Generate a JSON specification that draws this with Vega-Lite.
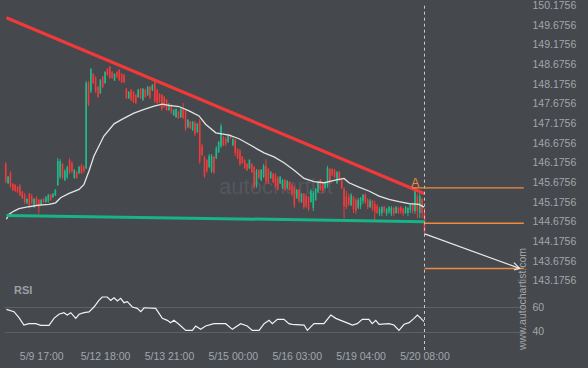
{
"$schema": "https://vega.github.io/schema/vega-lite/v6.json",
"background": "#45484d",
"padding": {"left": 0, "top": 0, "right": 16, "bottom": 8},
"spacing": 0,
"bounds": "flush",
"datasets": {
"candles": [
{"i":0,"o":146.15,"c":145.71,"h":146.20,"l":145.66},
{"i":1,"o":145.66,"c":145.82,"h":145.84,"l":145.64},
{"i":2,"o":145.92,"c":145.59,"h":145.97,"l":145.54},
{"i":3,"o":145.64,"c":145.49,"h":145.66,"l":145.46},
{"i":4,"o":145.61,"c":145.46,"h":145.64,"l":145.44},
{"i":5,"o":145.56,"c":145.44,"h":145.59,"l":145.41},
{"i":6,"o":145.59,"c":145.36,"h":145.64,"l":145.33},
{"i":7,"o":145.44,"c":145.28,"h":145.46,"l":145.26},
{"i":8,"o":145.36,"c":145.18,"h":145.41,"l":145.13},
{"i":9,"o":145.16,"c":145.26,"h":145.28,"l":145.13},
{"i":10,"o":145.39,"c":145.10,"h":145.41,"l":145.08},
{"i":11,"o":145.33,"c":145.16,"h":145.39,"l":145.13},
{"i":12,"o":145.08,"c":145.26,"h":145.28,"l":145.03},
{"i":13,"o":145.28,"c":145.10,"h":145.33,"l":145.08},
{"i":14,"o":145.23,"c":145.05,"h":145.26,"l":144.88},
{"i":15,"o":145.10,"c":145.23,"h":145.26,"l":145.08},
{"i":16,"o":145.26,"c":145.18,"h":145.28,"l":145.16},
{"i":17,"o":145.18,"c":145.31,"h":145.33,"l":145.16},
{"i":18,"o":145.21,"c":145.36,"h":145.39,"l":145.16},
{"i":19,"o":145.36,"c":145.23,"h":145.39,"l":145.21},
{"i":20,"o":145.31,"c":145.39,"h":145.41,"l":145.28},
{"i":21,"o":145.36,"c":145.49,"h":145.51,"l":145.33},
{"i":22,"o":145.61,"c":146.22,"h":146.30,"l":145.59},
{"i":23,"o":145.82,"c":146.22,"h":146.27,"l":145.77},
{"i":24,"o":146.15,"c":145.82,"h":146.17,"l":145.77},
{"i":25,"o":145.74,"c":145.97,"h":146.02,"l":145.71},
{"i":26,"o":145.82,"c":146.07,"h":146.10,"l":145.77},
{"i":27,"o":146.25,"c":145.94,"h":146.30,"l":145.89},
{"i":28,"o":146.17,"c":145.97,"h":146.22,"l":145.92},
{"i":29,"o":145.79,"c":145.99,"h":146.02,"l":145.77},
{"i":30,"o":145.94,"c":145.79,"h":145.97,"l":145.77},
{"i":31,"o":145.92,"c":146.07,"h":146.10,"l":145.89},
{"i":32,"o":146.10,"c":145.92,"h":146.15,"l":145.89},
{"i":33,"o":146.07,"c":145.97,"h":146.12,"l":145.92},
{"i":34,"o":146.04,"c":148.21,"h":148.26,"l":146.02},
{"i":35,"o":148.21,"c":147.67,"h":148.26,"l":147.62},
{"i":36,"o":148.00,"c":148.56,"h":148.59,"l":147.95},
{"i":37,"o":148.44,"c":148.21,"h":148.46,"l":148.18},
{"i":38,"o":148.34,"c":148.00,"h":148.39,"l":147.95},
{"i":39,"o":148.11,"c":147.85,"h":148.13,"l":147.83},
{"i":40,"o":147.95,"c":148.28,"h":148.31,"l":147.93},
{"i":41,"o":148.36,"c":148.11,"h":148.39,"l":148.08},
{"i":42,"o":148.21,"c":148.49,"h":148.51,"l":148.18},
{"i":43,"o":148.56,"c":148.41,"h":148.59,"l":148.39},
{"i":44,"o":148.62,"c":148.34,"h":148.64,"l":148.31},
{"i":45,"o":148.49,"c":148.34,"h":148.51,"l":148.31},
{"i":46,"o":148.28,"c":148.44,"h":148.46,"l":148.26},
{"i":47,"o":148.49,"c":148.36,"h":148.51,"l":148.34},
{"i":48,"o":148.54,"c":148.28,"h":148.56,"l":148.26},
{"i":49,"o":148.44,"c":148.23,"h":148.46,"l":148.21},
{"i":50,"o":148.41,"c":148.23,"h":148.44,"l":148.21},
{"i":51,"o":148.06,"c":147.83,"h":148.08,"l":147.80},
{"i":52,"o":147.83,"c":147.98,"h":148.00,"l":147.80},
{"i":53,"o":148.03,"c":147.78,"h":148.06,"l":147.75},
{"i":54,"o":147.98,"c":147.73,"h":148.00,"l":147.70},
{"i":55,"o":147.90,"c":147.70,"h":147.93,"l":147.67},
{"i":56,"o":147.85,"c":148.03,"h":148.06,"l":147.83},
{"i":57,"o":148.06,"c":147.83,"h":148.08,"l":147.80},
{"i":58,"o":147.78,"c":148.06,"h":148.08,"l":147.75},
{"i":59,"o":148.03,"c":147.85,"h":148.06,"l":147.83},
{"i":60,"o":147.90,"c":148.11,"h":148.13,"l":147.88},
{"i":61,"o":148.11,"c":147.83,"h":148.13,"l":147.80},
{"i":62,"o":148.03,"c":148.16,"h":148.18,"l":148.00},
{"i":63,"o":148.23,"c":147.75,"h":148.26,"l":147.70},
{"i":64,"o":148.03,"c":147.70,"h":148.06,"l":147.67},
{"i":65,"o":147.93,"c":147.73,"h":147.95,"l":147.70},
{"i":66,"o":147.90,"c":147.55,"h":147.93,"l":147.50},
{"i":67,"o":147.85,"c":147.60,"h":147.88,"l":147.57},
{"i":68,"o":147.78,"c":147.52,"h":147.80,"l":147.50},
{"i":69,"o":147.52,"c":147.67,"h":147.70,"l":147.50},
{"i":70,"o":147.65,"c":147.45,"h":147.67,"l":147.42},
{"i":71,"o":147.39,"c":147.52,"h":147.55,"l":147.37},
{"i":72,"o":147.34,"c":147.55,"h":147.57,"l":147.32},
{"i":73,"o":147.47,"c":147.32,"h":147.50,"l":147.29},
{"i":74,"o":147.34,"c":147.55,"h":147.57,"l":147.32},
{"i":75,"o":147.55,"c":147.32,"h":147.70,"l":147.29},
{"i":76,"o":147.50,"c":147.04,"h":147.55,"l":146.99},
{"i":77,"o":147.09,"c":147.27,"h":147.29,"l":147.06},
{"i":78,"o":147.22,"c":147.06,"h":147.24,"l":147.04},
{"i":79,"o":147.01,"c":147.22,"h":147.24,"l":146.99},
{"i":80,"o":147.19,"c":146.91,"h":147.24,"l":146.86},
{"i":81,"o":146.96,"c":147.17,"h":147.19,"l":146.94},
{"i":82,"o":147.24,"c":146.22,"h":147.29,"l":146.15},
{"i":83,"o":146.60,"c":146.38,"h":146.66,"l":146.35},
{"i":84,"o":146.33,"c":145.84,"h":146.35,"l":145.79},
{"i":85,"o":146.25,"c":145.97,"h":146.27,"l":145.92},
{"i":86,"o":146.07,"c":146.35,"h":146.40,"l":146.04},
{"i":87,"o":145.97,"c":146.35,"h":146.40,"l":145.92},
{"i":88,"o":146.33,"c":145.94,"h":146.35,"l":145.89},
{"i":89,"o":146.30,"c":146.55,"h":146.60,"l":146.27},
{"i":90,"o":146.45,"c":146.71,"h":146.73,"l":146.43},
{"i":91,"o":146.60,"c":147.11,"h":147.17,"l":146.55},
{"i":92,"o":146.83,"c":146.63,"h":146.86,"l":146.60},
{"i":93,"o":146.78,"c":146.66,"h":146.83,"l":146.60},
{"i":94,"o":146.71,"c":146.89,"h":146.91,"l":146.68},
{"i":95,"o":146.89,"c":146.81,"h":146.91,"l":146.78},
{"i":96,"o":146.63,"c":146.78,"h":146.81,"l":146.60},
{"i":97,"o":146.76,"c":146.43,"h":146.78,"l":146.35},
{"i":98,"o":146.53,"c":146.30,"h":146.55,"l":146.27},
{"i":99,"o":146.48,"c":146.15,"h":146.53,"l":146.10},
{"i":100,"o":146.33,"c":146.17,"h":146.35,"l":146.15},
{"i":101,"o":146.25,"c":146.04,"h":146.27,"l":146.02},
{"i":102,"o":146.15,"c":145.99,"h":146.17,"l":145.97},
{"i":103,"o":146.04,"c":146.25,"h":146.27,"l":146.02},
{"i":104,"o":146.15,"c":145.94,"h":146.17,"l":145.92},
{"i":105,"o":146.07,"c":145.56,"h":146.10,"l":145.51},
{"i":106,"o":145.59,"c":145.97,"h":146.02,"l":145.54},
{"i":107,"o":145.99,"c":145.79,"h":146.02,"l":145.77},
{"i":108,"o":145.74,"c":145.99,"h":146.02,"l":145.71},
{"i":109,"o":145.82,"c":146.10,"h":146.15,"l":145.79},
{"i":110,"o":146.10,"c":145.71,"h":146.27,"l":145.64},
{"i":111,"o":146.02,"c":145.69,"h":146.04,"l":145.64},
{"i":112,"o":145.79,"c":145.94,"h":145.97,"l":145.77},
{"i":113,"o":145.89,"c":145.69,"h":145.92,"l":145.66},
{"i":114,"o":145.87,"c":145.59,"h":145.92,"l":145.54},
{"i":115,"o":145.79,"c":145.51,"h":145.84,"l":145.46},
{"i":116,"o":145.66,"c":145.82,"h":145.84,"l":145.64},
{"i":117,"o":145.54,"c":145.74,"h":145.77,"l":145.51},
{"i":118,"o":145.74,"c":145.49,"h":145.77,"l":145.46},
{"i":119,"o":145.54,"c":145.71,"h":145.74,"l":145.51},
{"i":120,"o":145.69,"c":145.49,"h":145.71,"l":145.46},
{"i":121,"o":145.61,"c":145.39,"h":145.64,"l":145.33},
{"i":122,"o":145.54,"c":145.10,"h":145.59,"l":145.03},
{"i":123,"o":145.28,"c":145.49,"h":145.51,"l":145.26},
{"i":124,"o":145.49,"c":145.21,"h":145.51,"l":145.16},
{"i":125,"o":145.18,"c":145.39,"h":145.41,"l":145.16},
{"i":126,"o":145.39,"c":145.05,"h":145.41,"l":145.00},
{"i":127,"o":145.33,"c":145.08,"h":145.39,"l":145.03},
{"i":128,"o":145.31,"c":145.00,"h":145.33,"l":144.95},
{"i":129,"o":145.18,"c":145.46,"h":145.51,"l":145.16},
{"i":130,"o":145.03,"c":145.41,"h":145.46,"l":144.95},
{"i":131,"o":145.23,"c":145.51,"h":145.54,"l":145.21},
{"i":132,"o":145.44,"c":145.69,"h":145.71,"l":145.41},
{"i":133,"o":145.74,"c":145.49,"h":145.77,"l":145.46},
{"i":134,"o":145.64,"c":145.46,"h":145.66,"l":145.41},
{"i":135,"o":145.54,"c":145.69,"h":145.71,"l":145.51},
{"i":136,"o":145.59,"c":146.04,"h":146.10,"l":145.54},
{"i":137,"o":146.02,"c":145.69,"h":146.04,"l":145.64},
{"i":138,"o":146.02,"c":145.87,"h":146.04,"l":145.84},
{"i":139,"o":145.99,"c":145.82,"h":146.02,"l":145.79},
{"i":140,"o":145.66,"c":145.94,"h":145.97,"l":145.64},
{"i":141,"o":145.94,"c":145.74,"h":145.97,"l":145.71},
{"i":142,"o":145.77,"c":145.54,"h":145.79,"l":145.51},
{"i":143,"o":145.51,"c":145.08,"h":145.56,"l":144.77},
{"i":144,"o":145.33,"c":145.05,"h":145.46,"l":145.00},
{"i":145,"o":145.31,"c":145.13,"h":145.39,"l":145.08},
{"i":146,"o":145.10,"c":145.36,"h":145.41,"l":145.08},
{"i":147,"o":145.31,"c":145.00,"h":145.33,"l":144.90},
{"i":148,"o":145.23,"c":144.95,"h":145.28,"l":144.88},
{"i":149,"o":145.03,"c":145.23,"h":145.28,"l":145.00},
{"i":150,"o":145.08,"c":145.28,"h":145.31,"l":145.00},
{"i":151,"o":145.21,"c":145.36,"h":145.39,"l":145.13},
{"i":152,"o":145.36,"c":145.18,"h":145.41,"l":145.13},
{"i":153,"o":145.23,"c":145.05,"h":145.28,"l":145.00},
{"i":154,"o":145.05,"c":145.21,"h":145.26,"l":145.03},
{"i":155,"o":145.21,"c":145.00,"h":145.23,"l":144.95},
{"i":156,"o":145.13,"c":144.93,"h":145.21,"l":144.70},
{"i":157,"o":145.08,"c":144.90,"h":145.13,"l":144.88},
{"i":158,"o":144.88,"c":145.00,"h":145.05,"l":144.82},
{"i":159,"o":144.90,"c":145.05,"h":145.08,"l":144.82},
{"i":160,"o":145.05,"c":144.93,"h":145.08,"l":144.90},
{"i":161,"o":144.88,"c":145.00,"h":145.03,"l":144.82},
{"i":162,"o":144.93,"c":145.05,"h":145.08,"l":144.88},
{"i":163,"o":144.88,"c":145.03,"h":145.08,"l":144.82},
{"i":164,"o":145.03,"c":144.88,"h":145.05,"l":144.82},
{"i":165,"o":144.90,"c":145.05,"h":145.08,"l":144.88},
{"i":166,"o":145.03,"c":144.90,"h":145.05,"l":144.88},
{"i":167,"o":145.05,"c":144.93,"h":145.08,"l":144.88},
{"i":168,"o":145.00,"c":144.88,"h":145.03,"l":144.82},
{"i":169,"o":144.90,"c":145.05,"h":145.08,"l":144.88},
{"i":170,"o":144.90,"c":145.03,"h":145.05,"l":144.82},
{"i":171,"o":144.98,"c":145.13,"h":145.16,"l":144.90},
{"i":172,"o":145.13,"c":144.95,"h":145.16,"l":144.88},
{"i":173,"o":144.95,"c":145.46,"h":145.54,"l":144.88},
{"i":174,"o":145.33,"c":144.95,"h":145.39,"l":144.77},
{"i":175,"o":144.90,"c":145.33,"h":145.46,"l":144.77},
{"i":176,"o":145.26,"c":144.90,"h":145.28,"l":144.77},
{"i":177,"o":144.90,"c":144.42,"h":145.03,"l":144.37}
],
"ma": [
{"i":0.3,"p":144.74},{"i":1.4,"p":144.87},{"i":3.5,"p":144.95},{"i":5.6,"p":145.01},{"i":9.8,"p":145.06},
{"i":14.1,"p":145.10},{"i":18.3,"p":145.12},{"i":21.1,"p":145.16},{"i":23.2,"p":145.29},{"i":26.8,"p":145.40},
{"i":31,"p":145.50},{"i":33.1,"p":145.63},{"i":35.2,"p":145.97},{"i":37.3,"p":146.35},{"i":41.5,"p":146.86},
{"i":45.8,"p":147.17},{"i":49.3,"p":147.29},{"i":54.2,"p":147.44},{"i":58.5,"p":147.54},{"i":62.7,"p":147.62},
{"i":66.2,"p":147.67},{"i":69,"p":147.64},{"i":73.2,"p":147.61},{"i":77.5,"p":147.50},{"i":81.7,"p":147.37},
{"i":84.5,"p":147.16},{"i":88.8,"p":146.94},{"i":94.4,"p":146.88},{"i":98.6,"p":146.79},{"i":102.8,"p":146.65},
{"i":107.1,"p":146.50},{"i":109.2,"p":146.43},{"i":113.4,"p":146.33},{"i":117.6,"p":146.18},{"i":121.9,"p":145.99},
{"i":126.1,"p":145.78},{"i":130.3,"p":145.70},{"i":134.5,"p":145.67},{"i":138.8,"p":145.73},{"i":143,"p":145.78},
{"i":145.1,"p":145.67},{"i":149.3,"p":145.56},{"i":153.5,"p":145.46},{"i":157.8,"p":145.33},{"i":162,"p":145.25},
{"i":166.2,"p":145.19},{"i":170.5,"p":145.14},{"i":174.7,"p":145.12},{"i":176.8,"p":145.05}
],
"rsi": [
{"i":0.3,"r":58.1},{"i":3.5,"r":56.2},{"i":5.6,"r":51.4},{"i":7.7,"r":45.4},{"i":9.8,"r":46.5},
{"i":12.7,"r":46.5},{"i":14.8,"r":45.2},{"i":18.3,"r":45.2},{"i":20.4,"r":50.8},{"i":22.5,"r":54.1},
{"i":24.6,"r":55.4},{"i":26,"r":53.5},{"i":27.5,"r":55.4},{"i":29.6,"r":50.8},{"i":31,"r":54.1},
{"i":33.1,"r":55.4},{"i":35.2,"r":56},{"i":37.3,"r":60},{"i":39.4,"r":65.4},{"i":40.8,"r":68.1},
{"i":42.9,"r":68.1},{"i":44.4,"r":65.4},{"i":45.8,"r":67.5},{"i":47.2,"r":64.9},{"i":48.6,"r":67},
{"i":50,"r":63.5},{"i":51.4,"r":64.3},{"i":53.5,"r":60},{"i":55.6,"r":58.9},{"i":57.1,"r":56.2},
{"i":58.5,"r":59.4},{"i":63.4,"r":58.9},{"i":66.2,"r":50.8},{"i":68.3,"r":49.2},{"i":69.7,"r":47.3},
{"i":71.1,"r":49.2},{"i":73.2,"r":46},{"i":76.1,"r":41.1},{"i":78.9,"r":41.1},{"i":80.3,"r":44.6},
{"i":82.4,"r":41.9},{"i":84.5,"r":44.6},{"i":88,"r":46.5},{"i":93,"r":46.5},{"i":95.8,"r":41.9},
{"i":99.3,"r":46.5},{"i":102.1,"r":44.6},{"i":104.2,"r":41.1},{"i":107.1,"r":41.1},{"i":109.2,"r":46.5},
{"i":111.3,"r":49.2},{"i":112.7,"r":46.5},{"i":114.8,"r":50},{"i":117.6,"r":50},{"i":119.7,"r":46.5},
{"i":121.1,"r":46},{"i":126.1,"r":45.4},{"i":127.5,"r":41.1},{"i":130.3,"r":46.5},{"i":134.5,"r":46.5},
{"i":137.4,"r":53.5},{"i":139.5,"r":50.8},{"i":141.6,"r":49.2},{"i":145.1,"r":46.5},{"i":146.5,"r":45.4},
{"i":148.6,"r":46.5},{"i":150.7,"r":50},{"i":153.5,"r":50},{"i":154.9,"r":46.5},{"i":156.4,"r":49.2},
{"i":157.8,"r":46},{"i":162,"r":46.5},{"i":164.1,"r":45.4},{"i":166.2,"r":41.1},{"i":168.4,"r":46},
{"i":170.5,"r":47.3},{"i":172.6,"r":50.8},{"i":174,"r":53.5},{"i":175.5,"r":50.8},{"i":176.8,"r":48.1}
],
"res": [{"i":0.3,"p":149.87},{"i":177.1,"p":145.39}],
"sup": [{"i":0.3,"p":144.84},{"i":177.1,"p":144.68}],
"levels": [{"i":171.8,"i2":219,"p":145.54},{"i":177.1,"i2":219,"p":144.64},{"i":177.1,"i2":219,"p":143.49}],
"arrow": [{"k":0,"i":177.1,"p":144.37},{"k":1,"i":217.2,"p":143.49}],
"head": [{"k":0,"i":214.8,"p":143.64},{"k":1,"i":217.2,"p":143.49},{"k":2,"i":214.8,"p":143.45}],
"vline": [{"i":177,"p":150.1756,"p2":142.865}],
"alabel": [{"i":173.1,"p":145.66,"t":"A"}],
"wm": [{"i":90.2,"p":145.56,"t":"autochartist"}],
"rsilabel": [{"i":3.5,"r":72.6,"t":"RSI"}],
"site": [{"i":218.6,"r":66.5,"t":"www.autochartist.com"}],
"vline2": [{"i":177}]
},
"vconcat": [
{
"width": 520,
"height": 292,
"encoding": {"x": {"field": "i", "type": "quantitative", "scale": {"domain": [-0.72, 219.06], "nice": false, "zero": false}, "axis": null}},
"layer": [
{"data": {"name": "wm"}, "mark": {"type": "text", "align": "left", "baseline": "middle", "font": "Liberation Sans", "fontSize": 22, "color": "#54575c"},
 "encoding": {"y": {"field": "p", "type": "quantitative", "scale": {"domain": [142.865, 150.295], "nice": false, "zero": false},
   "axis": {"orient": "right", "values": [143.1756,143.6756,144.1756,144.6756,145.1756,145.6756,146.1756,146.6756,147.1756,147.6756,148.1756,148.6756,149.1756,149.6756,150.1756], "format": ".4f", "title": null, "labelPadding": 8, "labelOverlap": false}},
  "text": {"field": "t"}}},
{"data": {"name": "candles"}, "mark": {"type": "rule", "strokeWidth": 1},
 "encoding": {"y": {"field": "l", "type": "quantitative", "scale": {"domain": [142.865, 150.295], "nice": false, "zero": false},
   "axis": {"orient": "right", "values": [143.1756,143.6756,144.1756,144.6756,145.1756,145.6756,146.1756,146.6756,147.1756,147.6756,148.1756,148.6756,149.1756,149.6756,150.1756], "format": ".4f", "title": null, "labelPadding": 8, "labelOverlap": false}},
  "y2": {"field": "h"},
  "color": {"condition": {"test": "datum.c >= datum.o", "value": "#1fb98c"}, "value": "#ee3b3b"}}},
{"data": {"name": "candles"}, "mark": {"type": "rule", "strokeWidth": 1.6},
 "encoding": {"y": {"field": "o", "type": "quantitative", "scale": {"domain": [142.865, 150.295], "nice": false, "zero": false},
   "axis": {"orient": "right", "values": [143.1756,143.6756,144.1756,144.6756,145.1756,145.6756,146.1756,146.6756,147.1756,147.6756,148.1756,148.6756,149.1756,149.6756,150.1756], "format": ".4f", "title": null, "labelPadding": 8, "labelOverlap": false}},
  "y2": {"field": "c"},
  "color": {"condition": {"test": "datum.c >= datum.o", "value": "#1fb98c"}, "value": "#ee3b3b"}}},
{"data": {"name": "ma"}, "mark": {"type": "line", "color": "#e4e4e4", "strokeWidth": 1.3},
 "encoding": {"y": {"field": "p", "type": "quantitative", "scale": {"domain": [142.865, 150.295], "nice": false, "zero": false},
   "axis": {"orient": "right", "values": [143.1756,143.6756,144.1756,144.6756,145.1756,145.6756,146.1756,146.6756,147.1756,147.6756,148.1756,148.6756,149.1756,149.6756,150.1756], "format": ".4f", "title": null, "labelPadding": 8, "labelOverlap": false}}}},
{"data": {"name": "res"}, "mark": {"type": "line", "color": "#f03a3a", "strokeWidth": 3.2},
 "encoding": {"y": {"field": "p", "type": "quantitative", "scale": {"domain": [142.865, 150.295], "nice": false, "zero": false},
   "axis": {"orient": "right", "values": [143.1756,143.6756,144.1756,144.6756,145.1756,145.6756,146.1756,146.6756,147.1756,147.6756,148.1756,148.6756,149.1756,149.6756,150.1756], "format": ".4f", "title": null, "labelPadding": 8, "labelOverlap": false}}}},
{"data": {"name": "sup"}, "mark": {"type": "line", "color": "#18b386", "strokeWidth": 3},
 "encoding": {"y": {"field": "p", "type": "quantitative", "scale": {"domain": [142.865, 150.295], "nice": false, "zero": false},
   "axis": {"orient": "right", "values": [143.1756,143.6756,144.1756,144.6756,145.1756,145.6756,146.1756,146.6756,147.1756,147.6756,148.1756,148.6756,149.1756,149.6756,150.1756], "format": ".4f", "title": null, "labelPadding": 8, "labelOverlap": false}}}},
{"data": {"name": "vline"}, "mark": {"type": "rule", "color": "#c9cbce", "strokeWidth": 1, "strokeDash": [3, 3]},
 "encoding": {"y": {"field": "p", "type": "quantitative", "scale": {"domain": [142.865, 150.295], "nice": false, "zero": false},
   "axis": {"orient": "right", "values": [143.1756,143.6756,144.1756,144.6756,145.1756,145.6756,146.1756,146.6756,147.1756,147.6756,148.1756,148.6756,149.1756,149.6756,150.1756], "format": ".4f", "title": null, "labelPadding": 8, "labelOverlap": false}},
  "y2": {"field": "p2"}}},
{"data": {"name": "levels"}, "mark": {"type": "rule", "color": "#f28a3e", "strokeWidth": 1.4},
 "encoding": {"x2": {"field": "i2"}, "y": {"field": "p", "type": "quantitative", "scale": {"domain": [142.865, 150.295], "nice": false, "zero": false},
   "axis": {"orient": "right", "values": [143.1756,143.6756,144.1756,144.6756,145.1756,145.6756,146.1756,146.6756,147.1756,147.6756,148.1756,148.6756,149.1756,149.6756,150.1756], "format": ".4f", "title": null, "labelPadding": 8, "labelOverlap": false}}}},
{"data": {"name": "arrow"}, "mark": {"type": "line", "color": "#e8e8e8", "strokeWidth": 1.2},
 "encoding": {"order": {"field": "k"}, "y": {"field": "p", "type": "quantitative", "scale": {"domain": [142.865, 150.295], "nice": false, "zero": false},
   "axis": {"orient": "right", "values": [143.1756,143.6756,144.1756,144.6756,145.1756,145.6756,146.1756,146.6756,147.1756,147.6756,148.1756,148.6756,149.1756,149.6756,150.1756], "format": ".4f", "title": null, "labelPadding": 8, "labelOverlap": false}}}},
{"data": {"name": "head"}, "mark": {"type": "line", "color": "#e8e8e8", "strokeWidth": 1.2},
 "encoding": {"order": {"field": "k"}, "y": {"field": "p", "type": "quantitative", "scale": {"domain": [142.865, 150.295], "nice": false, "zero": false},
   "axis": {"orient": "right", "values": [143.1756,143.6756,144.1756,144.6756,145.1756,145.6756,146.1756,146.6756,147.1756,147.6756,148.1756,148.6756,149.1756,149.6756,150.1756], "format": ".4f", "title": null, "labelPadding": 8, "labelOverlap": false}}}},
{"data": {"name": "alabel"}, "mark": {"type": "text", "align": "center", "baseline": "middle", "font": "Liberation Sans", "fontSize": 12, "color": "#f28a3e"},
 "encoding": {"y": {"field": "p", "type": "quantitative", "scale": {"domain": [142.865, 150.295], "nice": false, "zero": false},
   "axis": {"orient": "right", "values": [143.1756,143.6756,144.1756,144.6756,145.1756,145.6756,146.1756,146.6756,147.1756,147.6756,148.1756,148.6756,149.1756,149.6756,150.1756], "format": ".4f", "title": null, "labelPadding": 8, "labelOverlap": false}},
  "text": {"field": "t"}}}
]
},
{
"width": 520,
"height": 58,
"encoding": {"x": {"field": "i", "type": "quantitative", "scale": {"domain": [-0.72, 219.06], "nice": false, "zero": false},
  "axis": {"values": [15, 42, 69, 96, 123, 150, 177], "title": null, "labelPadding": 0, "labelOverlap": false, "labelFlush": false,
   "labelExpr": "datum.value == 15 ? '5/9 17:00' : datum.value == 42 ? '5/12 18:00' : datum.value == 69 ? '5/13 21:00' : datum.value == 96 ? '5/15 00:00' : datum.value == 123 ? '5/16 03:00' : datum.value == 150 ? '5/19 04:00' : '5/20 08:00'"}}},
"layer": [
{"data": {"name": "rsi"}, "mark": {"type": "line", "color": "#f2f2f2", "strokeWidth": 1.2},
 "encoding": {"y": {"field": "r", "type": "quantitative", "scale": {"domain": [24.38, 71.34], "nice": false, "zero": false},
   "axis": {"orient": "right", "values": [40, 60], "title": null, "labelPadding": 8, "grid": true, "gridColor": "#5d6065", "gridWidth": 1}}}},
{"data": {"name": "vline2"}, "mark": {"type": "rule", "color": "#c9cbce", "strokeWidth": 1, "strokeDash": [3, 3]}, "encoding": {}},
{"data": {"name": "rsilabel"}, "mark": {"type": "text", "align": "left", "baseline": "middle", "font": "Liberation Sans", "fontSize": 11, "fontWeight": "bold", "color": "#9c9fa5"},
 "encoding": {"y": {"field": "r", "type": "quantitative", "scale": {"domain": [24.38, 71.34], "nice": false, "zero": false},
   "axis": {"orient": "right", "values": [40, 60], "title": null, "labelPadding": 8, "grid": true, "gridColor": "#5d6065", "gridWidth": 1}},
  "text": {"field": "t"}}},
{"data": {"name": "site"}, "mark": {"type": "text", "align": "center", "baseline": "middle", "angle": 270, "font": "Liberation Sans", "fontSize": 10.5, "color": "#a3a6ab"},
 "encoding": {"y": {"field": "r", "type": "quantitative", "scale": {"domain": [24.38, 71.34], "nice": false, "zero": false},
   "axis": {"orient": "right", "values": [40, 60], "title": null, "labelPadding": 8, "grid": true, "gridColor": "#5d6065", "gridWidth": 1}},
  "text": {"field": "t"}}}
]
}
],
"config": {
"view": {"stroke": null},
"axis": {"labelFont": "Liberation Sans", "labelFontSize": 10.5, "labelColor": "#a3a6ab", "domain": false, "ticks": false, "grid": false}
}
}
